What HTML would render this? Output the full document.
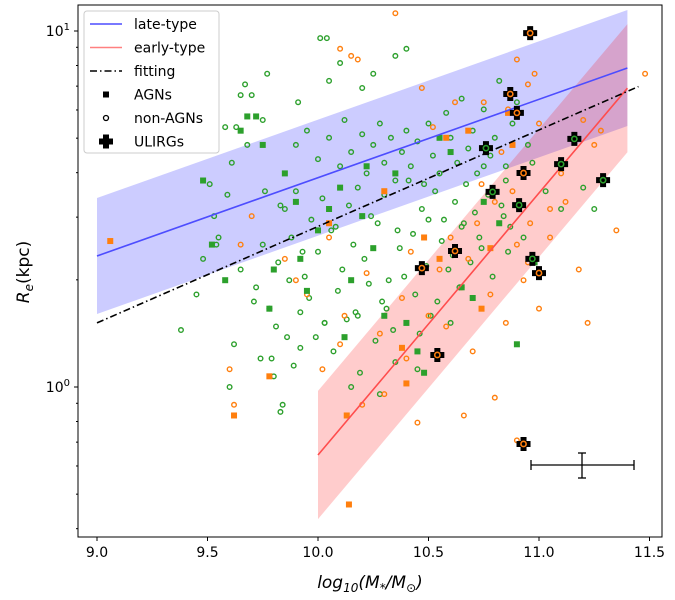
<!DOCTYPE html>
<html><head><meta charset="utf-8"><style>
body{margin:0;background:#fff;}
svg{display:block;font-family:"DejaVu Sans","Liberation Sans",sans-serif;}
</style></head><body>
<svg id="chart" width="675" height="600" viewBox="0 0 675 600" xmlns="http://www.w3.org/2000/svg"></svg>
<script>
// ---- data ----
const xTicks=[9.0,9.5,10.0,10.5,11.0,11.5];
const xTickLabels=["9.0","9.5","10.0","10.5","11.0","11.5"];
const yMajor=[0,1];
const yMajorLabels=["10^0","10^1"];
const lateSlope=0.22, lateInter=0.368, lateWidth=0.163, lateRange=[9.0,11.4];
const earlySlope=0.736, earlyInter=-0.191, earlyWidth=0.18, earlyRange=[10.0,11.4];
const fitSlope=0.271, fitInter=0.18, fitRange=[9.0,11.45];
const greenCircM=[10.01,10.04,9.65,9.70,9.63,9.61,9.68,9.75,9.51,9.59,9.76,9.83,9.93,9.54,9.55,9.48,9.65,9.38,9.80,9.86,9.71,9.92,9.84,9.79,
9.90,9.95,10.0,10.05,10.1,10.12,10.15,10.2,10.22,10.25,10.28,10.3,10.33,10.35,10.38,10.4,10.42,10.45,10.48,10.5,10.52,10.55,10.58,10.6,10.63,10.65,10.68,10.7,10.72,10.75,10.78,10.8,10.82,10.85,10.88,10.9,10.95,
9.85,9.9,9.97,10.02,10.08,10.14,10.18,10.24,10.3,10.36,10.41,10.47,10.53,10.57,10.62,10.67,10.71,10.77,10.83,10.87,
9.75,9.82,9.88,9.94,10.0,10.06,10.11,10.16,10.21,10.27,10.32,10.37,10.43,10.49,10.56,10.61,10.66,10.73,
9.72,9.78,9.87,9.96,10.03,10.09,10.17,10.23,10.29,10.34,10.39,10.44,10.51,10.59,10.64,10.69,10.74,10.79,10.86,
9.62,9.74,9.81,9.89,9.99,10.07,10.13,10.19,10.26,10.31,10.46,10.54,10.6,10.84,10.93,11.03,11.1,11.2,
9.67,9.77,9.91,10.05,10.1,10.2,10.25,10.35,10.4,9.58,9.53,9.45,9.6,10.15,10.28,10.45,10.55,10.65,10.75,10.85,10.97,11.25,9.83,9.92,10.03,10.18,10.35,10.5];
const greenCircR=[0.98,0.98,0.82,0.82,0.73,0.63,0.68,0.75,0.57,0.54,0.55,0.51,0.38,0.40,0.42,0.36,0.33,0.16,0.03,0.14,0.24,0.21,-0.05,0.08,
0.68,0.72,0.64,0.70,0.62,0.75,0.66,0.71,0.60,0.68,0.74,0.63,0.70,0.58,0.66,0.72,0.62,0.69,0.57,0.74,0.65,0.60,0.77,0.70,0.63,0.81,0.67,0.72,0.60,0.78,0.65,0.70,0.86,0.62,0.74,0.80,0.68,
0.50,0.55,0.47,0.53,0.45,0.51,0.56,0.48,0.54,0.44,0.58,0.50,0.55,0.47,0.52,0.57,0.49,0.54,0.51,0.45,
0.40,0.35,0.42,0.31,0.38,0.44,0.33,0.40,0.36,0.46,0.30,0.39,0.43,0.34,0.41,0.37,0.46,0.42,
0.28,0.22,0.30,0.25,0.18,0.27,0.21,0.29,0.24,0.16,0.31,0.26,0.20,0.33,0.28,0.35,0.39,0.31,0.38,
0.12,0.08,0.17,0.06,0.14,0.10,0.19,0.04,0.13,0.22,0.15,0.24,0.18,0.48,0.42,0.55,0.50,0.56,
0.85,0.88,0.80,0.86,0.91,0.84,0.88,0.93,0.95,0.73,0.48,0.26,0.00,0.00,-0.02,0.05,0.60,0.45,0.62,0.58,0.63,0.50,-0.07,0.11,0.18,0.20,0.07,0.47];
const orangeCircM=[10.1,10.15,10.18,10.35,10.47,10.52,10.62,10.75,10.83,10.86,10.95,10.98,10.9,11.0,11.1,11.2,11.25,11.28,11.48,10.74,10.8,10.88,10.96,11.05,
9.65,9.7,9.85,9.9,9.95,10.05,10.12,10.22,10.28,10.38,10.42,10.55,10.6,10.65,10.68,10.72,10.9,10.95,11.05,11.12,11.18,11.35,
10.02,10.1,10.2,10.4,10.5,10.58,10.7,10.78,10.85,10.93,11.0,11.22,10.3,10.45,10.66,10.8,10.9,9.6,9.62];
const orangeCircR=[0.95,0.93,0.92,1.05,0.84,0.73,0.80,0.80,0.66,0.78,0.85,0.88,0.92,0.74,0.60,0.75,0.68,0.72,0.88,0.57,0.52,0.55,0.46,0.50,
0.40,0.48,0.36,0.30,0.26,0.42,0.20,0.32,0.15,0.25,0.38,0.33,0.42,0.28,0.36,0.46,0.40,0.35,0.42,0.52,0.33,0.44,
0.05,0.12,-0.05,0.08,0.20,0.17,0.10,0.26,0.18,0.30,0.22,0.18,-0.02,-0.10,-0.08,-0.03,-0.15,0.05,-0.05];
const greenSqM=[9.48,9.52,9.65,9.68,9.72,9.75,9.80,9.85,9.90,9.95,10.0,10.05,10.1,10.15,10.2,10.25,10.3,10.4,10.45,10.55,10.6,10.7,10.75,10.82,10.9,9.58,9.78,9.92,10.12,10.22,10.35,10.48,10.65,10.98];
const greenSqR=[0.58,0.40,0.72,0.76,0.76,0.68,0.33,0.60,0.52,0.27,0.44,0.50,0.56,0.30,0.48,0.39,0.20,0.18,0.10,0.70,0.66,0.25,0.52,0.46,0.12,0.30,0.22,0.36,0.14,0.62,0.60,0.04,0.28,0.35];
const orangeSqM=[9.06,9.62,9.78,10.13,10.14,10.4,10.38,10.48,10.55,10.58,10.74,10.78,10.86,10.88,10.68,10.3,10.05];
const orangeSqR=[0.41,-0.08,0.03,-0.08,-0.33,0.01,0.11,0.42,0.36,0.70,0.22,0.39,0.77,0.68,0.72,0.55,0.46];
const ulirgM=[10.96,10.87,10.90,10.76,11.16,11.10,10.93,10.79,10.91,11.29,10.62,10.47,10.97,11.00,10.54,10.93];
const ulirgR=[0.994,0.823,0.770,0.671,0.697,0.626,0.601,0.548,0.511,0.581,0.382,0.334,0.360,0.320,0.090,-0.160];
const ulirgInner=["o","o","o","g","g","g","o","g","g","g","o","o","g","o","o","o"];

// ---- axes ----
const X0=78,X1=662,Y0=5,Y1=537;
const xs=m=>97+(m-9)*221;
const ys=l=>387-l*356;
const svg=document.getElementById('chart');
const NS="http://www.w3.org/2000/svg";
function mk(tag,attrs,parent){const e=document.createElementNS(NS,tag);for(const k in attrs)e.setAttribute(k,attrs[k]);(parent||svg).appendChild(e);return e;}
const G='#2ca02c',O='#ff7f0e';

const defs=mk('defs',{});
const cp=mk('clipPath',{id:'clip'},defs);mk('rect',{x:X0,y:Y0,width:X1-X0,height:Y1-Y0},cp);
const plot=mk('g',{'clip-path':'url(#clip)'});



function band(sl,ic,w,r,fill,name){
 const a=r[0],b=r[1];const f=m=>ic+sl*(m-9-(name==='early-band'?1:0));
 const p=mk('polygon',{points:`${xs(a)},${ys(f(a)+w)} ${xs(b)},${ys(f(b)+w)} ${xs(b)},${ys(f(b)-w)} ${xs(a)},${ys(f(a)-w)}`,fill:fill},plot);
 
 
}
band(lateSlope,lateInter,lateWidth,lateRange,'rgba(0,0,255,0.2)','late-band');
band(earlySlope,earlyInter,earlyWidth,earlyRange,'rgba(255,0,0,0.2)','early-band');

function circles(M,R,c,name){M.forEach((m,i)=>{const e=mk('circle',{cx:xs(m),cy:ys(R[i]),r:2.3,fill:'none',stroke:c,'stroke-width':1.4},plot);
 
 });}
function squares(M,R,c,name){M.forEach((m,i)=>{const e=mk('rect',{x:xs(m)-3,y:ys(R[i])-3,width:6,height:6,fill:c},plot);
 
 });}
circles(greenCircM,greenCircR,G,'non-agn-green-point');
circles(orangeCircM,orangeCircR,O,'non-agn-orange-point');
squares(greenSqM,greenSqR,G,'agn-green-point');
squares(orangeSqM,orangeSqR,O,'agn-orange-point');

function line(sl,ic,r,c,dash,name,off){const f=m=>ic+sl*(m-9-off);
 const l=mk('line',{x1:xs(r[0]),y1:ys(f(r[0])),x2:xs(r[1]),y2:ys(f(r[1])),stroke:c,'stroke-width':1.6,'stroke-dasharray':dash},plot);
 
 }
line(lateSlope,lateInter,lateRange,'#4d4dff','none','late-type-line',0);
line(earlySlope,earlyInter,earlyRange,'#ff4d4d','none','early-type-line',1);
line(fitSlope,fitInter,fitRange,'#000','7,3,1.5,3','fitting-line',0);

ulirgM.forEach((m,i)=>{const x=xs(m),y=ys(ulirgR[i]);
 const g=mk('g',{},plot);
 
 
 mk('path',{d:`M${x-3},${y-7}h6v4h4v6h-4v4h-6v-4h-4v-6h4z`,fill:'#000'},g);
 const c=ulirgInner[i]==='g'?G:O;
 mk('circle',{cx:x,cy:y,r:2.6,fill:'none',stroke:c,'stroke-width':1.6},g);});

// error bar
const eb=mk('g',{stroke:'#000','stroke-width':1.3});


mk('line',{x1:531,y1:465,x2:634,y2:465},eb);mk('line',{x1:531,y1:460,x2:531,y2:470},eb);mk('line',{x1:634,y1:460,x2:634,y2:470},eb);
mk('line',{x1:582,y1:453,x2:582,y2:478},eb);mk('line',{x1:578,y1:453,x2:586,y2:453},eb);mk('line',{x1:578,y1:478,x2:586,y2:478},eb);

// frame
const fr=mk('rect',{x:X0,y:Y0,width:X1-X0,height:Y1-Y0,fill:'none',stroke:'#000','stroke-width':1});


xTicks.forEach((t,i)=>{const x=xs(t);mk('line',{x1:x,y1:Y1,x2:x,y2:Y1+4,stroke:'#000'});
 const tx=mk('text',{x:x,y:Y1+20,'text-anchor':'middle','font-size':14});tx.textContent=xTickLabels[i];
 
 });
yMajor.forEach((t,i)=>{const y=ys(t);mk('line',{x1:X0-4,y1:y,x2:X0,y2:y,stroke:'#000'});
 const tx=mk('text',{x:X0-8,y:y+5,'text-anchor':'end','font-size':14});
 
 
 const p=yMajorLabels[i].split('^');tx.textContent=p[0];const s=mk('tspan',{'font-size':10,dy:-6},tx);s.textContent=p[1];});
for(let d=-1;d<=1;d++)for(let k=2;k<=9;k++){const l=d+Math.log10(k);const y=ys(l);if(y>Y0&&y<Y1)mk('line',{x1:X0-2,y1:y,x2:X0,y2:y,stroke:'#000'});}

const xl=mk('text',{x:370,y:588,'text-anchor':'middle','font-size':17,'font-style':'italic'});


xl.innerHTML='log<tspan font-size="12" dy="4">10</tspan><tspan dy="-4">(M</tspan><tspan font-size="12" dy="4">*</tspan><tspan dy="-4">/M</tspan><tspan font-size="12" dy="4" font-style="normal">⊙</tspan><tspan dy="-4">)</tspan>';
const yl=mk('text',{x:0,y:0,'text-anchor':'middle','font-size':17,transform:'translate(29,272) rotate(-90)'});


yl.innerHTML='<tspan font-style="italic">R</tspan><tspan font-style="italic" font-size="12" dy="4">e</tspan><tspan dy="-4">(kpc)</tspan>';

// legend
const lg=mk('g',{});


mk('rect',{x:84,y:11,width:135,height:142,rx:3,fill:'rgba(255,255,255,0.8)',stroke:'#ccc'},lg);
const items=[['late-type','l','#4d4dff'],['early-type','l','#ff8080'],['fitting','d','#000'],['AGNs','s'],['non-AGNs','c'],['ULIRGs','p']];
items.forEach((it,i)=>{const y=24+i*23.5;const g=mk('g',{},lg);
 
 
 if(it[1]==='l')mk('line',{x1:90,y1:y,x2:122,y2:y,stroke:it[2],'stroke-width':1.6},g);
 if(it[1]==='d')mk('line',{x1:90,y1:y,x2:122,y2:y,stroke:'#000','stroke-width':1.6,'stroke-dasharray':'7,3,1.5,3'},g);
 if(it[1]==='s')mk('rect',{x:103,y:y-3,width:6,height:6,fill:'#000'},g);
 if(it[1]==='c')mk('circle',{cx:106,cy:y,r:2.5,fill:'none',stroke:'#000','stroke-width':1.3},g);
 if(it[1]==='p')mk('path',{d:`M${103},${y-7}h6v4h4v6h-4v4h-6v-4h-4v-6h4z`,fill:'#000'},g);
 const t=mk('text',{x:134,y:y+5,'font-size':14},g);t.textContent=it[0];});
</script>
</body></html>
